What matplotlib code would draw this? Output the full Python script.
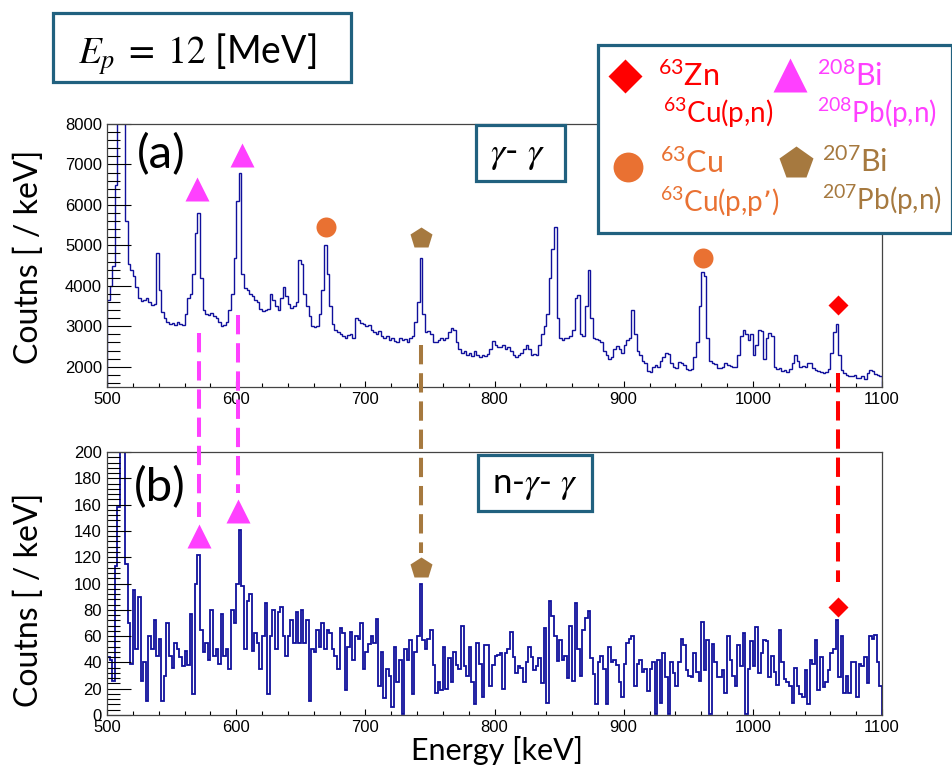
import numpy as np
import matplotlib
matplotlib.use("Agg")
import matplotlib.pyplot as plt
from matplotlib.patches import Rectangle
from matplotlib.lines import Line2D
from matplotlib.ticker import MultipleLocator

# ---------------------------------------------------------------- data
bin_edges = np.arange(500, 1101, 2)  # 2 keV bins, 500-1100 keV

# (a) gamma-gamma coincidence spectrum [counts / keV]
gg_counts = [
    3650, 4000, 4500, 6500, 15000, 20000, 12000, 5600, 4550, 4400,
    4250, 3980, 3700, 3620, 3650, 3700, 3600, 3520, 3550, 4800,
    3900, 3350, 3200, 3100, 3050, 3080, 3040, 3100, 3050, 3020,
    3300, 3700, 3800, 4300, 5300, 5800, 4200, 3400, 3300, 3280,
    3330, 3250, 3200, 3100, 3000, 3020, 3100, 3400, 3800, 4700,
    6100, 6800, 4300, 3950, 3900, 3800, 3750, 3650, 3600, 3420,
    3380, 3400, 3420, 3800, 3650, 3500, 3400, 3700, 3980, 3750,
    3550, 3450, 3500, 3600, 4650, 4550, 3800, 3500, 3250, 3000,
    2980, 3000, 3300, 3900, 5000, 4300, 3500, 3050, 2900, 2850,
    2800, 2750, 2700, 2780, 2820, 2700, 3200, 3150, 3080, 3050,
    3000, 3020, 2900, 2850, 2800, 2880, 2750, 2720, 2760, 2650,
    2700, 2640, 2620, 2700, 2650, 2680, 2620, 2700, 2750, 3100,
    3600, 4700, 3300, 2850, 2880, 2820, 2620, 2600, 2650, 2700,
    2650, 2720, 2850, 2950, 2900, 2600, 2450, 2350, 2380, 2300,
    2350, 2270, 2380, 2300, 2250, 2300, 2260, 2320, 2450, 2630,
    2550, 2500, 2480, 2550, 2450, 2500, 2380, 2280, 2250, 2280,
    2350, 2450, 2550, 2450, 2300, 2310, 2280, 2550, 2800, 3000,
    3300, 4200, 4900, 5450, 3200, 2700, 2650, 2720, 2700, 2750,
    2900, 3700, 3780, 2800, 2750, 3500, 4400, 3200, 2700, 2680,
    2650, 2600, 2400, 2300, 2200, 2250, 2450, 2520, 2450, 2350,
    2550, 2650, 2700, 3400, 2800, 2400, 2300, 2150, 2100, 1900,
    1880, 2000, 2050, 2000, 2150, 2250, 2330, 2320, 2100, 2000,
    1980, 2130, 2100, 2050, 1950, 1920, 1950, 2250, 2600, 3500,
    4340, 4250, 2700, 2150, 2100, 2080, 1980, 1960, 2000, 2100,
    2050, 2010, 2000, 1990, 2300, 2750, 2900, 2800, 2650, 2800,
    2300, 2550, 2900, 2880, 2200, 2700, 2830, 2750, 2000, 1950,
    1960, 1900, 1930, 1880, 1950, 2100, 2300, 2150, 2000, 2020,
    1990, 2100, 2090, 1960, 1930, 1900, 1880, 1850, 1860, 1950,
    2350, 2850, 3050, 2300, 1920, 1850, 1800, 1780, 1760, 1800,
    1730, 1720, 1760, 1700, 1850, 1930, 1900, 1820, 1800, 1780,
]

# (b) n-gamma-gamma coincidence spectrum [counts / keV]
ngg_counts = [
    44, 42, 26, 113, 158, 260, 230, 115, 70, 39,
    95, 50, 90, 26, 40, 11, 60, 50, 72, 45,
    58, 11, 30, 70, 45, 36, 55, 50, 44, 37,
    49, 38, 77, 16, 100, 122, 65, 48, 55, 42,
    80, 45, 50, 39, 77, 45, 50, 35, 80, 70,
    100, 141, 98, 50, 87, 92, 49, 62, 55, 35,
    60, 85, 16, 60, 80, 50, 78, 82, 60, 45,
    60, 72, 55, 78, 55, 80, 55, 72, 11, 50,
    48, 65, 52, 70, 50, 65, 62, 50, 45, 35,
    66, 62, 19, 52, 63, 42, 60, 58, 70, 35,
    48, 54, 60, 55, 73, 22, 48, 13, 35, 30,
    6, 52, 25, 42, 1, 50, 42, 57, 16, 48,
    60, 100, 57, 50, 58, 65, 38, 17, 25, 19,
    52, 20, 43, 25, 48, 38, 35, 68, 37, 30,
    52, 25, 8, 55, 39, 14, 53, 53, 22, 38,
    45, 46, 47, 20, 47, 50, 63, 44, 32, 37,
    36, 25, 40, 52, 44, 34, 37, 43, 24, 66,
    9, 87, 75, 60, 41, 57, 42, 45, 28, 68,
    26, 85, 50, 30, 65, 74, 79, 43, 31, 8,
    40, 45, 35, 8, 52, 40, 42, 38, 25, 14,
    39, 55, 58, 60, 22, 39, 42, 33, 35, 18,
    35, 40, 1, 42, 9, 47, 29, 1, 40, 32,
    22, 40, 58, 53, 34, 30, 29, 47, 33, 26,
    71, 34, 57, 1, 54, 40, 29, 29, 34, 17,
    60, 42, 30, 22, 53, 37, 62, 1, 35, 56,
    37, 67, 32, 47, 57, 56, 29, 45, 33, 23,
    65, 40, 27, 25, 22, 9, 36, 22, 16, 14,
    34, 8, 42, 39, 57, 19, 44, 21, 25, 34,
    47, 50, 72, 29, 60, 17, 30, 17, 40, 40,
    14, 39, 37, 44, 24, 60, 58, 61, 40, 22,
]

# identified lines: energy [keV], marker height in (a) and (b)
line_isotope = ["208Bi", "208Bi", "63Cu", "207Bi", "63Cu", "63Zn"]
line_energy_a = [569.4, 604.3, 669.5, 742.8, 961.6, 1066.2]
line_height_a = [6383, 7235, 5465, 5173, 4684, 3530]

line_isotope_b = ["208Bi", "208Bi", "207Bi", "63Zn"]
line_energy_b = [571.5, 601.7, 742.8, 1066.2]
line_height_b = [136, 155, 112, 82]

# dashed guides linking the same line in both spectra: energy, top in (a) -> end in (b)
guide_isotope = ["208Bi", "208Bi", "207Bi", "63Zn"]
guide_energy = [571.0, 601.7, 742.8, 1066.2]
guide_from_a = [2840, 3284, 2543, 1852]
guide_to_b = [150.6, 169, 123, 101]

legend_entries = [
    ("63Zn", r"$\mathregular{^{63}}$Zn", r"$\mathregular{^{63}}$Cu(p,n)"),
    ("208Bi", r"$\mathregular{^{208}}$Bi", r"$\mathregular{^{208}}$Pb(p,n)"),
    ("63Cu", r"$\mathregular{^{63}}$Cu", r"$\mathregular{^{63}}$Cu(p,p’)"),
    ("207Bi", r"$\mathregular{^{207}}$Bi", r"$\mathregular{^{207}}$Pb(p,n)"),
]

# ---------------------------------------------------------------- style
STYLE = {
    "63Zn": dict(color="#FF0000", marker="D", ms=10.2, legend_ms=17.0),
    "208Bi": dict(color="#FF40FF", marker="^", ms=17.0, legend_ms=24.0),
    "63Cu": dict(color="#E97132", marker="o", ms=14.4, legend_ms=21.5),
    "207Bi": dict(color="#A6793F", marker="p", ms=16.5, legend_ms=25.0),
}
SPEC_COLOR = "#10109C"
BOX_COLOR = "#21617F"
TEXT_FONT = ["Lato", "DejaVu Sans"]
TICK_FONT = "Liberation Sans"

W, H, DPI = 953, 766, 100
fig = plt.figure(figsize=(W / DPI, H / DPI), dpi=DPI)
fig.patch.set_facecolor("white")
plt.rcParams["font.family"] = TEXT_FONT


def fx(px):
    return px / W


def fy(py):
    return 1 - py / H


ax_a = fig.add_axes([fx(107), fy(387), (882 - 107) / W, (387 - 124) / H])
ax_b = fig.add_axes([fx(107), fy(715), (882 - 107) / W, (715 - 452) / H])

for ax, counts, ylim, ymaj, ymin, lw in (
    (ax_a, gg_counts, (1500, 8000), 1000, 200, 1.0),
    (ax_b, ngg_counts, (0, 200), 20, 4, 1.3),
):
    ax.stairs(counts, bin_edges, color=SPEC_COLOR, lw=lw)
    ax.set_xlim(500, 1100)
    ax.set_ylim(*ylim)
    ax.xaxis.set_major_locator(MultipleLocator(100))
    ax.xaxis.set_minor_locator(MultipleLocator(20))
    ax.yaxis.set_major_locator(MultipleLocator(ymaj))
    ax.yaxis.set_minor_locator(MultipleLocator(ymin))
    ax.tick_params(axis="y", which="major", direction="in", length=17.5,
                   width=0.8, pad=3.6, labelsize=12, labelfontfamily=TICK_FONT)
    ax.tick_params(axis="y", which="minor", direction="in", length=9, width=0.8)
    ax.tick_params(axis="x", which="major", direction="in", length=4,
                   width=0.8, pad=3.6, labelsize=12, labelfontfamily=TICK_FONT)
    ax.tick_params(axis="x", which="minor", direction="in", length=3, width=0.8)
    for sp in ax.spines.values():
        sp.set_linewidth(0.9)
        sp.set_color("#444444")

# peak markers
for iso, e, h in zip(line_isotope, line_energy_a, line_height_a):
    st = STYLE[iso]
    ax_a.plot([e], [h], linestyle="none", marker=st["marker"], ms=st["ms"],
              color=st["color"], mec="none", clip_on=False, zorder=4)
for iso, e, h in zip(line_isotope_b, line_energy_b, line_height_b):
    st = STYLE[iso]
    ax_b.plot([e], [h], linestyle="none", marker=st["marker"], ms=st["ms"],
              color=st["color"], mec="none", clip_on=False, zorder=4)

# dashed guides between the panels (data -> display -> figure fraction)
to_fig = fig.transFigure.inverted()
for iso, e, ya, yb in zip(guide_isotope, guide_energy, guide_from_a, guide_to_b):
    p_top = to_fig.transform(ax_a.transData.transform((e, ya)))
    p_bot = to_fig.transform(ax_b.transData.transform((e, yb)))
    fig.add_artist(Line2D([p_top[0], p_bot[0]], [p_top[1], p_bot[1]],
                          transform=fig.transFigure, color=STYLE[iso]["color"],
                          lw=2.9, linestyle=(0, (4.8, 2.2)),
                          dash_capstyle="butt", zorder=5))

# panel tags and axis titles
fig.text(fx(137), fy(155), "(a)", fontsize=34, ha="left", va="center", color="black")
fig.text(fx(134), fy(488), "(b)", fontsize=34, ha="left", va="center", color="black")
fig.text(fx(29), fy(257), "Coutns [ / keV]", fontsize=23, rotation=90,
         ha="center", va="center")
fig.text(fx(29), fy(600), "Coutns [ / keV]", fontsize=23, rotation=90,
         ha="center", va="center")
fig.text(fx(497), fy(760), "Energy [keV]", fontsize=22, ha="center", va="baseline")


def framed_box(x0, y0, x1, y1):
    rect = Rectangle((fx(x0), fy(y1)), (x1 - x0) / W, (y1 - y0) / H,
                     transform=fig.transFigure, facecolor="white",
                     edgecolor=BOX_COLOR, lw=2.3, zorder=6)
    fig.add_artist(rect)


# beam-energy box
framed_box(53, 13, 351, 82)
fig.text(fx(197), fy(64), r"$E_p\;=\;12$ [MeV]", fontsize=27, ha="center",
         va="baseline", math_fontfamily="stix", zorder=7)

# coincidence-condition boxes
framed_box(476, 125, 565, 181)
fig.text(fx(518), fy(163), r"$\gamma$- $\gamma$", fontsize=26, ha="center",
         va="baseline", math_fontfamily="stix", zorder=7)
framed_box(478, 455, 592, 511)
fig.text(fx(535), fy(493), r"n-$\gamma$- $\gamma$", fontsize=25, ha="center",
         va="baseline", math_fontfamily="stix", zorder=7)

# legend box
framed_box(598, 45, 952, 233)
legend_layout = [
    # marker centre, text left, isotope baseline, reaction baseline
    ((625, 76), 658, 86, 663, 123),
    ((790, 74.5), 817, 86, 817, 123),
    ((628, 167), 660, 173, 660, 212),
    ((796, 162.5), 822, 172, 822, 210),
]
for (iso, name, reaction), ((mx, my), tx, ty1, tx2, ty2) in zip(legend_entries, legend_layout):
    st = STYLE[iso]
    fig.add_artist(Line2D([fx(mx)], [fy(my)], transform=fig.transFigure,
                          linestyle="none", marker=st["marker"], ms=st["legend_ms"],
                          color=st["color"], mec="none", zorder=7))
    fig.text(fx(tx), fy(ty1), name, fontsize=22, color=st["color"],
             ha="left", va="baseline", zorder=7)
    fig.text(fx(tx2), fy(ty2), reaction, fontsize=20, color=st["color"],
             ha="left", va="baseline", zorder=7)

fig.savefig("out.png", dpi=DPI, facecolor="white")
